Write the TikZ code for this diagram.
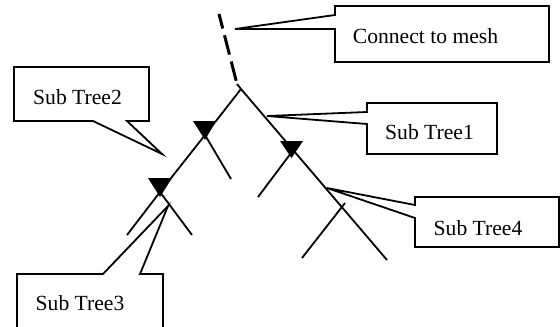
\documentclass[tikz,border=0pt]{standalone}
\usepackage{fontspec}
\setmainfont{Liberation Serif}
\begin{document}
\begin{tikzpicture}[x=0.5pt,y=-0.5pt,
  treeline/.style={line width=0.9pt},
  meshline/.style={line width=1.5pt, dash pattern=on 10pt off 3.5pt, dash phase=2.5pt},
  callout/.style={draw, fill=white, line width=0.9pt, line join=miter},
  lbl/.style={font=\fontsize{10.8}{13}\selectfont, inner sep=0pt, anchor=base},
  tri/.style={fill=black}]
\useasboundingbox (0,0) rectangle (560,326);
\clip (0,0) rectangle (560,326);

% tree coordinates
\coordinate (meshtop) at (219,14);
\coordinate (meshbot) at (237,84);
\coordinate (apex) at (241,89);
\coordinate (t1) at (205,135);
\coordinate (t2) at (160,192);
\coordinate (lend) at (127,235);
\coordinate (t2r) at (192,235);
\coordinate (t1r) at (231,179);
\coordinate (t3) at (291,153);
\coordinate (rend) at (387,260);
\coordinate (t3l) at (258,197);
\coordinate (b4top) at (345,203);
\coordinate (b4l) at (302,258);

% tips of callouts
\coordinate (tipmesh) at (235,29);
\coordinate (tip1) at (267,116);
\coordinate (tip2) at (162,154);
\coordinate (tip3) at (168,206);
\coordinate (tip4) at (327,188);

% tree
\draw[meshline] (meshtop) -- (meshbot);
\draw[treeline] (meshbot) -- (apex);
\draw[treeline] (apex) -- (t1) -- (t2) -- (lend);
\draw[treeline] (t2) -- (t2r);
\draw[treeline] (t1) -- (t1r);
\draw[treeline] (apex) -- (rend);
\draw[treeline] (t3) -- (t3l);
\draw[treeline] (b4l) -- (b4top);

% triangles
\fill[tri] (193,121) -- (216,121) -- (205,140) -- cycle;
\fill[tri] (148,178) -- (172,178) -- (160,197) -- cycle;
\fill[tri] (280,141) -- (303,141) -- (291.5,158) -- cycle;

% callouts
\draw[callout] (335,6) -- (549,6) -- (549,62) -- (335,62) -- (335,29) -- (tipmesh) -- (335,15) -- cycle;
\draw[callout] (367,103) -- (497,103) -- (497,154) -- (367,154) -- (367,124) -- (tip1) -- (367,112) -- cycle;
\draw[callout] (14,67) -- (149,67) -- (149,121) -- (127,121) -- (tip2) -- (93,121) -- (14,121) -- cycle;
\draw[callout] (17,274) -- (103,274) -- (tip3) -- (140,274) -- (163,274) -- (163,340) -- (17,340) -- cycle;
\draw[callout] (415,197) -- (559,197) -- (559,247) -- (415,247) -- (415,218) -- (tip4) -- (415,205) -- cycle;

% labels
\node[lbl] (lmesh) at (425.5,44) {Connect to mesh};
\node[lbl] (l1) at (429.5,139) {Sub Tree1};
\node[lbl] (l2) at (77.5,104) {Sub Tree2};
\node[lbl] (l3) at (80,310) {Sub Tree3};
\node[lbl] (l4) at (478,235) {Sub Tree4};
\end{tikzpicture}
\end{document}
